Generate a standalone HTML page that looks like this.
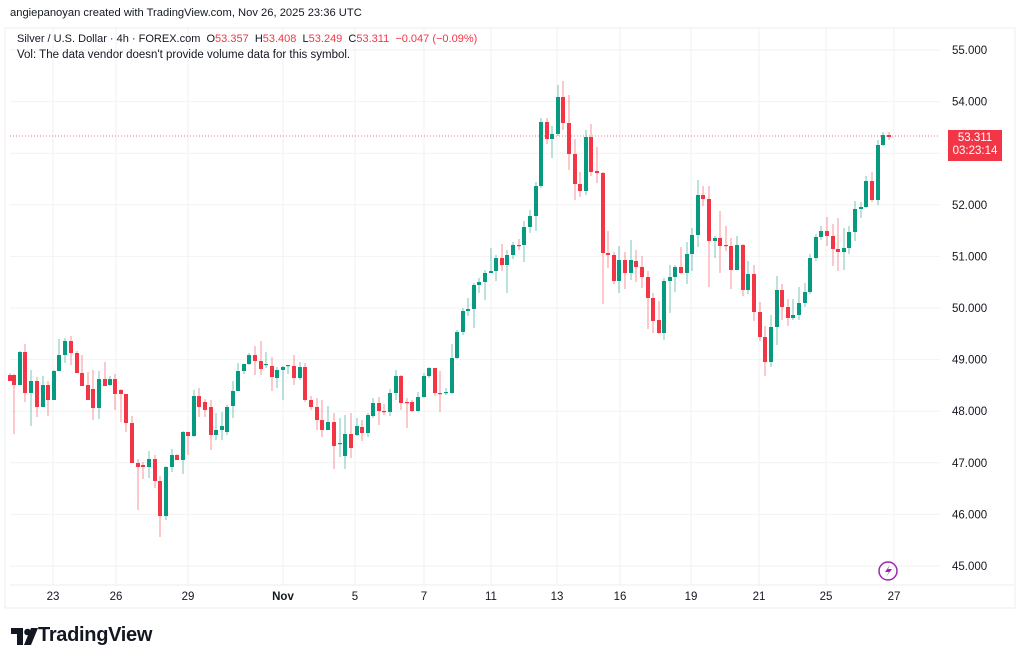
<!DOCTYPE html><html><head><meta charset="utf-8"><style>
body{margin:0;background:#fff;font-family:"Liberation Sans",sans-serif;color:#131722}
.t{position:absolute;white-space:nowrap}
</style></head><body>
<div style="position:relative;width:1024px;height:665px;overflow:hidden">
<div class="t" style="left:10px;top:7px;font-size:11.2px">angiepanoyan created with TradingView.com, Nov 26, 2025 23:36 UTC</div>
<svg id="s" width="1024" height="665" style="position:absolute;left:0;top:0"></svg>
<div class="t" style="left:17px;top:33px;font-size:11px">Silver / U.S. Dollar · 4h · FOREX.com &nbsp;O<span style="color:#f23645">53.357</span> &nbsp;H<span style="color:#f23645">53.408</span> &nbsp;L<span style="color:#f23645">53.249</span> &nbsp;C<span style="color:#f23645">53.311 &nbsp;−0.047 (−0.09%)</span></div>
<div class="t" style="left:17px;top:49px;font-size:11.5px">Vol: The data vendor doesn't provide volume data for this symbol.</div>
<div class="t" style="left:948px;top:130px;width:54px;height:29px;background:#f23645;color:#fff;font-size:11.5px;line-height:13px;padding-top:2px;text-align:center">53.311<br>03:23:14</div>
<div class="t" style="left:10px;top:624px;font-size:20px;font-weight:bold;letter-spacing:-0.3px"><span style="display:inline-block;width:28px"></span>TradingView</div>
</div>
<script>
const s=document.getElementById('s');let h='';
h+='<rect x="5" y="28" width="1010" height="580" fill="none" stroke="#eee"/>';
const pr=[55,54,53,52,51,50,49,48,47,46,45];
pr.forEach(p=>{const y=50+(55-p)*51.6;h+=`<line x1="10" x2="940" y1="${y}" y2="${y}" stroke="#f2f2f3"/>`;h+=`<text x="952" y="${y+4}" font-size="11.5" fill="#131722" font-family="Liberation Sans">${p}.000</text>`});
const tl=[[53,'23'],[116,'26'],[188,'29'],[283,'Nov'],[355,'5'],[424,'7'],[491,'11'],[557,'13'],[620,'16'],[691,'19'],[759,'21'],[826,'25'],[894,'27']];
tl.forEach(([x,t])=>{h+=`<line x1="${x}" x2="${x}" y1="28" y2="585" stroke="#f2f2f3"/>`;h+=`<text x="${x}" y="600" font-size="11.5" text-anchor="middle" fill="#131722" font-family="Liberation Sans" ${t=='Nov'?'font-weight="bold"':''}>${t}</text>`});
h+='<line x1="10" x2="1014" y1="585" y2="585" stroke="#eee"/>';
h+='<line x1="10" x2="940" y1="136" y2="136" stroke="#f23645" stroke-dasharray="1,2" opacity=".7"/>';
const d=[[10,375,381,373,381],[14,375,385,374,434],[20,385,352,351,385],[25,352,393,344,402],[31,393,381,370,426],[37,381,407,377,417],[43,407,385,376,407],[48,385,400,381,416],[54,400,371,370,400],[59,371,355,339,371],[65,355,341,338,363],[71,341,353,336,365],[77,353,373,351,373],[82,373,386,355,386],[88,385,400,372,399],[93,389,408,370,420],[99,408,379,371,419],[105,379,386,362,386],[110,385,379,376,386],[115,379,394,374,410],[121,390,394,389,422],[126,394,423,410,432],[132,423,463,416,463],[138,463,467,459,510],[143,465,467,462,479],[149,467,459,451,478],[155,459,481,455,488],[160,481,516,476,537],[166,516,467,466,520],[172,467,455,449,472],[177,455,460,454,460],[183,460,432,431,474],[188,432,436,432,455],[194,436,396,390,437],[199,396,407,388,417],[205,402,410,399,417],[211,407,435,400,450],[216,435,430,413,440],[222,430,426,412,440],[227,432,407,405,435],[233,406,391,381,418],[238,391,371,363,391],[244,371,364,364,374],[249,364,355,353,365],[255,355,361,346,375],[261,361,369,341,375],[266,365,364,352,368],[272,366,377,357,391],[277,378,370,367,388],[283,370,367,366,400],[288,366,365,365,374],[294,366,378,355,385],[300,378,367,362,380],[305,367,400,363,402],[311,400,407,396,410],[317,407,420,398,430],[322,420,430,400,437],[328,430,422,406,430],[334,422,446,413,469],[340,444,443,418,457],[345,456,434,415,469],[351,434,448,413,458],[357,435,426,418,436],[362,427,433,420,441],[368,433,415,413,437],[373,416,403,398,418],[379,403,411,397,425],[384,411,412,404,415],[390,412,393,389,416],[396,393,376,370,400],[401,376,403,375,410],[407,402,402,398,428],[412,402,411,400,412],[418,411,397,392,412],[424,397,376,373,398],[429,376,368,367,378],[435,368,393,368,396],[440,393,394,371,412],[446,393,392,388,395],[452,393,358,344,394],[457,358,332,330,359],[463,332,311,308,335],[468,311,309,298,316],[474,309,285,283,328],[479,285,282,278,293],[485,282,273,270,300],[491,273,271,248,273],[496,271,258,255,281],[502,258,265,244,271],[507,265,255,250,293],[513,255,245,242,259],[519,245,245,239,250],[524,245,227,221,262],[530,227,216,210,233],[536,216,186,182,231],[541,186,122,118,188],[547,122,139,118,144],[552,139,134,126,158],[558,134,97,85,136],[563,97,123,81,130],[569,123,154,95,170],[575,154,184,139,200],[580,184,191,172,197],[586,191,137,130,195],[591,137,172,124,176],[597,171,173,147,183],[603,173,253,172,304],[608,253,255,231,268],[614,255,281,252,284],[619,281,260,246,293],[625,260,273,252,289],[631,273,260,240,280],[636,261,267,250,282],[642,267,277,256,288],[648,277,298,271,329],[653,298,321,293,333],[659,320,333,301,334],[664,333,281,278,340],[670,281,277,265,313],[675,277,267,265,292],[681,267,273,247,274],[687,273,254,242,284],[692,254,235,228,271],[698,235,195,180,247],[703,195,199,186,206],[709,199,241,186,287],[715,241,238,236,258],[720,238,246,211,273],[726,245,246,226,251],[731,246,270,238,289],[737,270,245,236,269],[743,245,290,244,296],[748,290,274,261,294],[754,274,312,265,321],[760,312,337,302,341],[765,337,362,326,376],[771,362,327,315,367],[777,327,290,276,345],[782,290,307,284,320],[788,307,318,299,326],[793,318,315,299,320],[799,315,303,287,320],[805,303,292,283,307],[810,292,258,254,294],[816,258,237,234,261],[821,237,231,226,240],[827,231,236,217,246],[833,236,249,224,266],[838,249,252,218,271],[844,252,248,228,270],[849,248,232,226,254],[855,232,209,201,241],[861,209,207,202,218],[866,207,181,176,208],[872,181,200,172,202],[878,200,145,140,205],[883,145,135,132,146],[889,135,137,132,140]];
d.forEach(([x,o,c,hi,lo])=>{const g=c<o,col=g?'#089981':'#f23645';const t=Math.min(o,c),b=Math.max(o,c);
h+=`<line x1="${x}" x2="${x}" y1="${Math.min(hi,t)}" y2="${Math.max(lo,b)}" stroke="${col}" stroke-opacity=".55"/>`;
h+=`<rect x="${x-2}" y="${t}" width="4" height="${Math.max(b-t,1.2)}" fill="${col}"/>`});
h+='<circle cx="888" cy="571" r="9" fill="none" stroke="#9c27b0" stroke-width="1.5"/><path d="M890 565 L885 572 H889 L886 577 L892 569 H888 Z" fill="#9c27b0"/>';
h+='<path d="M11 628 H23 V645 H17 V634 H11 Z M24 645 L31 628 H38 L31 645 Z" fill="#131722"/><circle cx="27.5" cy="632" r="3.3" fill="#131722"/>';
s.innerHTML=h;
</script>
</body></html>
